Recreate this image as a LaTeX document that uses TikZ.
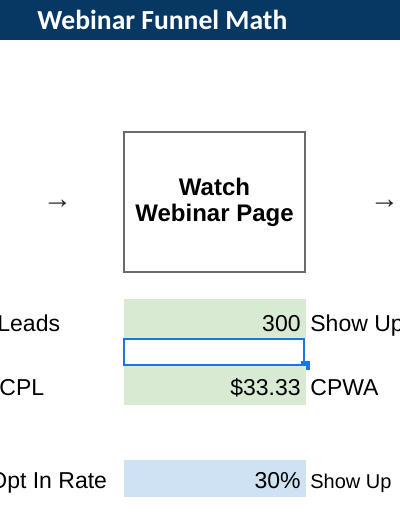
\documentclass[tikz,border=0pt]{standalone}
\usepackage{fontspec}
\setmainfont{Liberation Sans}
\newfontfamily\titlefont{Carlito}
\usetikzlibrary{positioning}
\definecolor{headNavy}{HTML}{073763}
\definecolor{cellGreen}{HTML}{D9EAD3}
\definecolor{cellBlue}{HTML}{CFE2F3}
\definecolor{selBlue}{HTML}{1A73E8}
\definecolor{boxGray}{HTML}{6B6B6B}
\tikzset{
    funnel_title/.style={
        anchor=base west,
        inner sep=0pt,
        text=white,
        font=\titlefont\bfseries\fontsize{13.8}{15}\selectfont
    },
    funnel_page/.style={
        rectangle,
        draw=boxGray,
        line width=0.6pt,
        fill=white,
        minimum width=90.5pt,
        minimum height=70pt,
        align=center,
        font=\bfseries\fontsize{12}{13}\selectfont
    },
    funnel_arrow/.style={
        inner sep=0pt,
        text=black!85,
        font=\fontsize{14.7}{15}\selectfont
    },
    funnel_cell/.style={
        rectangle,
        inner sep=0pt,
        minimum width=91pt,
        minimum height=19.5pt
    },
    funnel_handle/.style={
        rectangle,
        fill=selBlue,
        draw=selBlue,
        line width=0.4pt,
        inner sep=0pt,
        minimum width=4pt,
        minimum height=4pt
    },
    funnel_label/.style={
        anchor=base west,
        inner sep=0pt,
        font=\fontsize{11.5}{13}\selectfont
    },
    funnel_value/.style={
        anchor=base east,
        inner sep=0pt,
        font=\fontsize{11.5}{13}\selectfont
    }
}

\begin{document}
\begin{tikzpicture}[x=0.5pt, y=-0.5pt]
\clip (0,0) rectangle (400,516);
\fill[white] (0,0) rectangle (400,516);

% Header
\fill[headNavy] (0,0) rectangle (400,40);
\node[funnel_title] (title) at (37,29) {Webinar Funnel Math};

% Page box and arrows
\node[funnel_page] (pageBox) at (214.5,202) {Watch\\Webinar Page};
\node[funnel_arrow] (arrowIn) at (57.5,204) {→};
\node[funnel_arrow] (arrowOut) at (384.5,204) {→};

% Cells
\node[funnel_cell, fill=cellGreen] (leadsCell) at (215,318.5) {};
\node[funnel_cell, fill=white, draw=selBlue, line width=1pt, minimum width=90pt, minimum height=13pt] (selCell) at (214.5,351.5) {};
\node[funnel_handle] (selHandle) at (305,365) {};
\node[funnel_cell, fill=cellGreen] (cplCell) at (215,385.5) {};
\node[funnel_cell, fill=cellBlue, minimum height=18.5pt] (rateCell) at (215,478.5) {};

% Row texts
\node[funnel_label] (leadsLbl) at (-3,331) {Leads};
\node[funnel_value] (leadsVal) at (301,331) {300};
\node[funnel_label] (showUpLbl) at (310,331) {Show Up};

\node[funnel_label] (cplLbl) at (-1,395) {CPL};
\node[funnel_value] (cplVal) at (301,395) {\$33.33};
\node[funnel_label] (cpwaLbl) at (310,395) {CPWA};

\node[funnel_label] (optLbl) at (-11,488) {Opt In Rate};
\node[funnel_value] (rateVal) at (301,488) {30\%};
\node[funnel_label, font=\fontsize{10}{12}\selectfont] (showRateLbl) at (310,488) {Show Up};

\end{tikzpicture}
\end{document}
